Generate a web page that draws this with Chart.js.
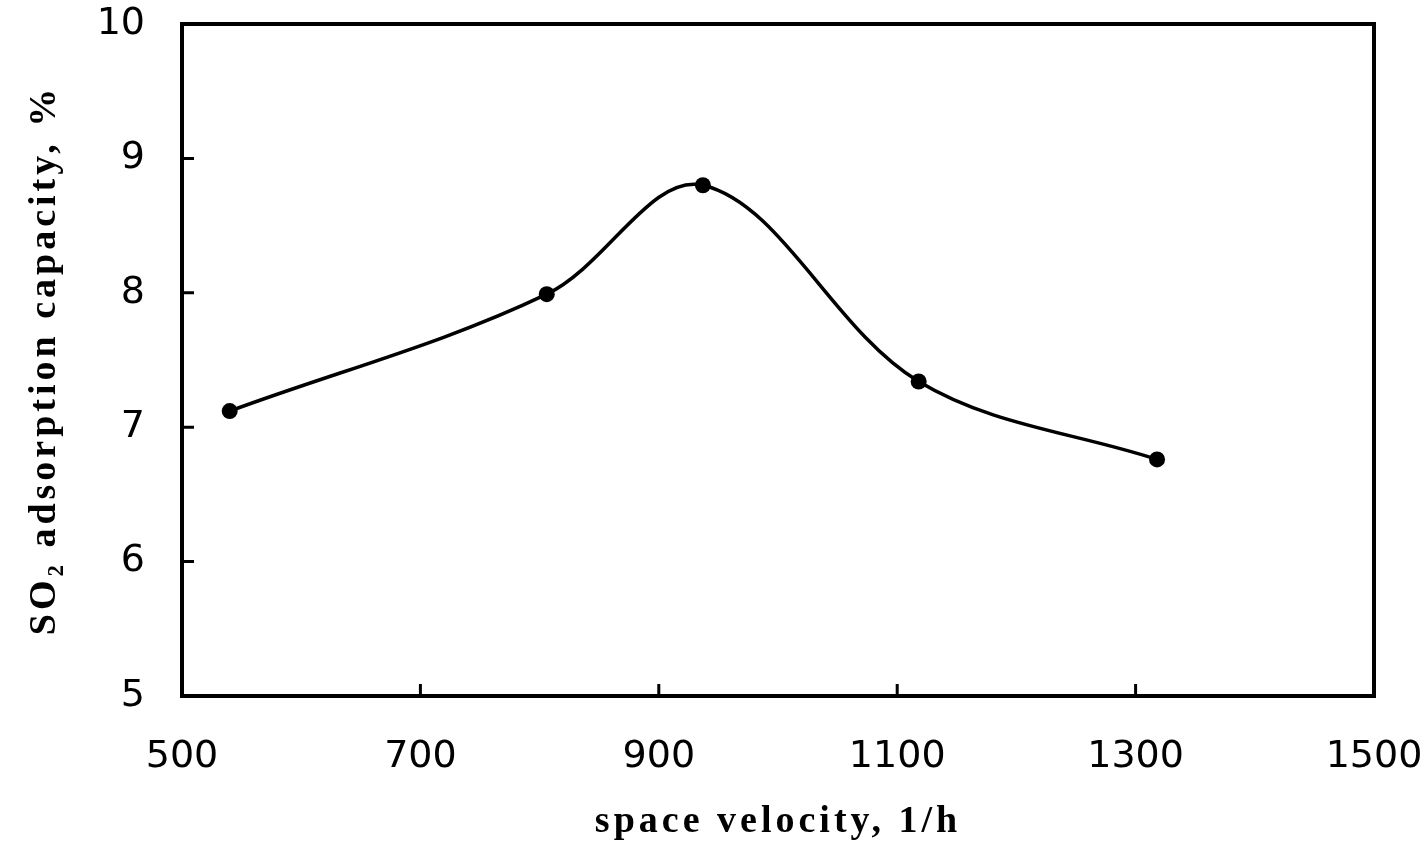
<!DOCTYPE html>
<html>
<head>
<meta charset="utf-8">
<script src="https://cdn.jsdelivr.net/npm/chart.js@4"></script>
<style>
  html, body { margin: 0; padding: 0; background: #fff; }
  #wrap { width: 1426px; height: 848px; }
</style>
</head>
<body>
<div id="wrap"><canvas id="chart"></canvas></div>
<script>
// Data
const spaceVelocity = [540, 806, 937, 1118, 1318];
const so2Capacity = [7.12, 7.99, 8.80, 7.34, 6.76];

const xTicks = [500, 700, 900, 1100, 1300, 1500];
const yTicks = [5, 6, 7, 8, 9, 10];

const xTitle = "space velocity, 1/h";
const yTitle = "SO\u2082 adsorption capacity, %";

const tickFont = { family: "DejaVu Sans", size: 38 };
const titleFont = { family: "Liberation Serif", size: 38, weight: "bold" };

// Spaced-out titles, plain tick labels
const titleSpacing = {
  id: "titleSpacing",
  beforeDraw(chart) {
    chart.ctx.letterSpacing = "4px";
  },
  beforeDatasetsDraw(chart) {
    chart.ctx.letterSpacing = "0px";
  }
};

// Box frame and inward tick marks
const frameTicks = {
  id: "frameTicks",
  afterDraw(chart) {
    const { ctx, chartArea } = chart;
    const xs = chart.scales.x;
    const ys = chart.scales.y;
    ctx.save();
    ctx.strokeStyle = "#000";
    ctx.lineWidth = 4;
    ctx.strokeRect(chartArea.left, chartArea.top, chartArea.right - chartArea.left, chartArea.bottom - chartArea.top);
    ctx.lineWidth = 3;
    ctx.beginPath();
    xTicks.forEach((v) => {
      const px = xs.getPixelForValue(v);
      ctx.moveTo(px, chartArea.bottom);
      ctx.lineTo(px, chartArea.bottom - 12);
    });
    yTicks.forEach((v) => {
      const py = ys.getPixelForValue(v);
      ctx.moveTo(chartArea.left, py);
      ctx.lineTo(chartArea.left + 12, py);
    });
    ctx.stroke();
    ctx.restore();
  }
};

const ctx = document.getElementById("chart").getContext("2d");
new Chart(ctx, {
  type: "scatter",
  data: {
    datasets: [{
      data: spaceVelocity.map((x, i) => ({ x: x, y: so2Capacity[i] })),
      showLine: true,
      borderColor: "#000",
      borderWidth: 3.5,
      tension: 0.35,
      pointRadius: 8,
      pointBackgroundColor: "#000",
      pointBorderColor: "#000",
      pointBorderWidth: 0
    }]
  },
  options: {
    responsive: true,
    maintainAspectRatio: false,
    animation: false,
    layout: { padding: { left: 0, right: 52, top: 24, bottom: 0 } },
    plugins: {
      legend: { display: false },
      tooltip: { enabled: false }
    },
    scales: {
      x: {
        type: "linear",
        min: 500,
        max: 1500,
        afterBuildTicks: (scale) => { scale.ticks = xTicks.map((v) => ({ value: v })); },
        afterFit: (scale) => {
          scale.height = 152;
          scale.paddingLeft = 0;
          scale.paddingRight = 0;
        },
        grid: { display: false, drawTicks: false },
        border: { display: false },
        ticks: { font: tickFont, color: "#000", padding: 38, maxRotation: 0, z: 1, callback: (v) => String(v) },
        title: { display: true, text: xTitle, font: titleFont, color: "#000", padding: { top: 0, bottom: 3 } }
      },
      y: {
        min: 5,
        max: 10,
        afterBuildTicks: (scale) => { scale.ticks = yTicks.map((v) => ({ value: v })); },
        afterFit: (scale) => {
          scale.width = 182;
          scale.paddingTop = 0;
          scale.paddingBottom = 0;
        },
        grid: { display: false, drawTicks: false },
        border: { display: false },
        ticks: { font: tickFont, color: "#000", padding: 37, z: 1, callback: (v) => String(v) },
        title: { display: true, text: yTitle, font: titleFont, color: "#000", padding: { top: 22, bottom: 0 } }
      }
    }
  },
  plugins: [titleSpacing, frameTicks]
});
</script>
</body>
</html>
